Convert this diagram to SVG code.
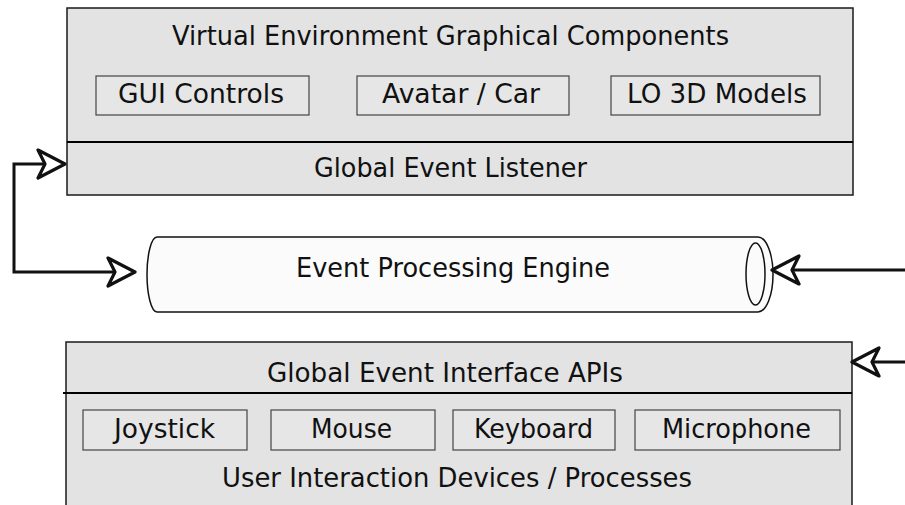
<svg xmlns="http://www.w3.org/2000/svg" width="905" height="505" viewBox="0 0 905 505">
<style>
.panel{fill:#e3e3e3;stroke:#1a1a1a;stroke-width:1.5}
.item{fill:#e6e6e6;stroke:#444;stroke-width:1.2}
.div{stroke:#000;stroke-width:2.2}
.t{font-family:"DejaVu Sans","Liberation Sans",sans-serif;font-size:27px;fill:#111}
.cyl{fill:#fbfbfb;stroke:#111;stroke-width:1.5}
.conn{fill:none;stroke:#111;stroke-width:3}
</style>
<defs>
<marker id="arr" markerUnits="userSpaceOnUse" markerWidth="36" markerHeight="38" refX="29" refY="17" orient="auto-start-reverse" viewBox="0 0 36 38">
<path d="M2,3 L29,17 L2,31 L9,17 Z" fill="#fff" stroke="#111" stroke-width="3.2" stroke-linejoin="round"/>
</marker>
</defs>

<g id="vegc">
<rect class="panel" x="67" y="8" width="786" height="187"/>
<line class="div" x1="67" y1="142" x2="853" y2="142"/>
<text class="t" x="172" y="45" textLength="557" lengthAdjust="spacingAndGlyphs">Virtual Environment Graphical Components</text>
<text class="t" x="314" y="177" textLength="273" lengthAdjust="spacingAndGlyphs">Global Event Listener</text>
</g>
<g id="gui">
<rect class="item" x="96" y="76" width="213" height="39"/>
<text class="t" x="118" y="103" textLength="166" lengthAdjust="spacingAndGlyphs">GUI Controls</text>
</g>
<g id="avatar">
<rect class="item" x="357" y="76" width="212" height="39"/>
<text class="t" x="382" y="103" textLength="158" lengthAdjust="spacingAndGlyphs">Avatar / Car</text>
</g>
<g id="lo3d">
<rect class="item" x="611" y="76" width="209" height="39"/>
<text class="t" x="627" y="103" textLength="180" lengthAdjust="spacingAndGlyphs">LO 3D Models</text>
</g>

<g id="engine">
<path class="cyl" d="M157,237 H758 A15,37.5 0 0 1 758,312 H157 A10,37.5 0 0 1 157,237 Z"/>
<ellipse cx="755.5" cy="274" rx="9.5" ry="31" fill="none" stroke="#111" stroke-width="1.5"/>
<text class="t" x="296" y="277" textLength="314" lengthAdjust="spacingAndGlyphs">Event Processing Engine</text>
</g>

<g id="udev">
<rect class="panel" x="66" y="342" width="786" height="180"/>
<line class="div" x1="63" y1="393" x2="852" y2="393"/>
<text class="t" x="267" y="382" textLength="356" lengthAdjust="spacingAndGlyphs">Global Event Interface APIs</text>
<text class="t" x="222" y="487" textLength="470" lengthAdjust="spacingAndGlyphs">User Interaction Devices / Processes</text>
</g>
<g id="joystick">
<rect class="item" x="83" y="410" width="164" height="40"/>
<text class="t" x="114" y="438" textLength="101" lengthAdjust="spacingAndGlyphs">Joystick</text>
</g>
<g id="mouse">
<rect class="item" x="271" y="410" width="164" height="40"/>
<text class="t" x="311" y="438" textLength="81" lengthAdjust="spacingAndGlyphs">Mouse</text>
</g>
<g id="keyboard">
<rect class="item" x="453" y="410" width="162" height="40"/>
<text class="t" x="474" y="438" textLength="119" lengthAdjust="spacingAndGlyphs">Keyboard</text>
</g>
<g id="microphone">
<rect class="item" x="635" y="410" width="205" height="40"/>
<text class="t" x="662" y="438" textLength="149" lengthAdjust="spacingAndGlyphs">Microphone</text>
</g>

<g id="connectors">
<path class="conn" d="M65,164 H14 V272 H135" marker-start="url(#arr)" marker-end="url(#arr)"/>
<path class="conn" d="M910,270 H772" marker-end="url(#arr)"/>
<path class="conn" d="M910,362 H852" marker-end="url(#arr)"/>
</g>
</svg>
